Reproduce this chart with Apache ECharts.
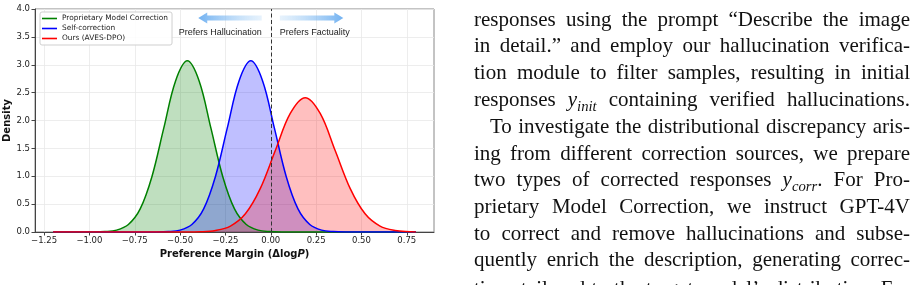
<!DOCTYPE html>
<html>
<head>
<meta charset="utf-8">
<title>Preference Margin</title>
<style>
    body { margin: 0; background: #fff; }
    #chart { position: absolute; left: 0; top: 0; width: 918px; height: 285px; }
    #para {
        position: absolute; left: 474px; top: 0; width: 436px; height: 285px; overflow: hidden;
        font-family: "Liberation Serif", serif; font-size: 21px; color: #111;
    }
    #para div {
        position: absolute; left: 0; width: 436px; height: 26px; line-height: 26px;
        text-align: justify; text-align-last: justify;
    }
    #para .indent { left: 16px; width: 420px; }
    #para sub { font-size: 0.7em; line-height: 0; font-style: italic; }
</style>
</head>
<body>
<div id="chart"></div>
<div id="para">
    <div style="top:5.5px">responses using the prompt “Describe the image</div>
    <div style="top:32.3px">in detail.” and employ our hallucination verifica-</div>
    <div style="top:59.1px">tion module to filter samples, resulting in initial</div>
    <div style="top:85.9px">responses <i>y</i><sub>init</sub> containing verified hallucinations.</div>
    <div class="indent" style="top:112.7px">To investigate the distributional discrepancy aris-</div>
    <div style="top:139.5px">ing from different correction sources, we prepare</div>
    <div style="top:166.3px">two types of corrected responses <i>y</i><sub>corr</sub>. For Pro-</div>
    <div style="top:193.1px">prietary Model Correction, we instruct GPT-4V</div>
    <div style="top:219.9px">to correct and remove hallucinations and subse-</div>
    <div style="top:245.7px">quently enrich the description, generating correc-</div>
    <div style="top:275px">tions tailored to the target model’s distribution. For</div>
</div>

<script src="https://cdn.jsdelivr.net/npm/echarts@6/dist/echarts.min.js"></script>
<script>
    // tick positions
    var xTicks = [-1.25, -1.0, -0.75, -0.5, -0.25, 0, 0.25, 0.5, 0.75];

    // density curves
    var greenX = [-1.2, -0.98, -0.915, -0.85, -0.785, -0.72, -0.655, -0.59, -0.525, -0.46,
                  -0.395, -0.33, -0.265, -0.2, -0.135, -0.07, -0.005, 0.06, 0.8];
    var greenY = [0, 0.001, 0.007, 0.034, 0.135, 0.415, 0.997, 1.862, 2.709, 3.07,
                  2.709, 1.862, 0.997, 0.415, 0.135, 0.034, 0.007, 0.001, 0];

    var blueX = [-1.2, -0.63, -0.565, -0.5, -0.435, -0.37, -0.305, -0.24, -0.175, -0.11,
                 -0.045, 0.02, 0.085, 0.15, 0.215, 0.28, 0.345, 0.41, 0.8];
    var blueY = [0, 0.001, 0.007, 0.034, 0.135, 0.415, 0.997, 1.862, 2.709, 3.07,
                 2.709, 1.862, 0.997, 0.415, 0.135, 0.034, 0.007, 0.001, 0];

    var redX = [-1.2, -0.47, -0.3875, -0.305, -0.2225, -0.14, -0.0575, 0.025, 0.1075, 0.19,
                0.2725, 0.355, 0.4375, 0.52, 0.6025, 0.685, 0.7675, 0.8];
    var redY = [0, 0.001, 0.005, 0.027, 0.106, 0.326, 0.783, 1.462, 2.127, 2.41,
                2.127, 1.462, 0.783, 0.326, 0.106, 0.027, 0.005, 0.002];

    var seriesNames = ['Proprietary Model Correction', 'Self-correction', 'Ours (AVES-DPO)'];
    var seriesColors = ['#008000', '#0000ff', '#ff0000'];

    // annotation placement (data coords)
    var arrowY = 3.84, noteY = 3.58;
    var leftArrow = [-0.05, -0.40], rightArrow = [0.05, 0.40];

    var chart = echarts.init(document.getElementById('chart'));

    function pairs(xs, ys) {
        return xs.map(function (x, i) { return [x, ys[i]]; });
    }
    function minus(s) { return s.replace('-', '\u2212'); }

    function density(i, xs, ys) {
        return {
            name: seriesNames[i],
            type: 'line',
            data: pairs(xs, ys),
            smooth: 0.35,
            symbol: 'none',
            lineStyle: { color: seriesColors[i], width: 1.5 },
            itemStyle: { color: seriesColors[i] },
            areaStyle: { color: seriesColors[i], opacity: 0.25 }
        };
    }

    var red = density(2, redX, redY);
    red.markLine = {
        silent: true,
        symbol: ['none', 'none'],
        label: { show: false },
        lineStyle: { color: '#333', type: [4, 2.5], width: 1 },
        data: [{ xAxis: 0 }]
    };

    var option = {
        animation: false,
        textStyle: { fontFamily: 'DejaVu Sans' },
        grid: { left: 35, top: 9, width: 399, height: 223, show: true, borderColor: '#888', borderWidth: 1 },
        legend: {
            left: 40, top: 12, orient: 'vertical',
            icon: 'rect', itemWidth: 15, itemHeight: 1.6, itemGap: 3,
            padding: [3, 4, 3, 2],
            borderColor: '#cfcfcf', borderWidth: 1, borderRadius: 2,
            backgroundColor: 'rgba(255,255,255,0.85)',
            textStyle: { fontSize: 7.4, color: '#222', fontFamily: 'DejaVu Sans' },
            data: seriesNames
        },
        xAxis: {
            type: 'value', min: -1.3, max: 0.9,
            axisLine: { show: true, onZero: false, lineStyle: { color: '#444' } },
            axisTick: { show: true, length: 3.5, lineStyle: { color: '#444' }, customValues: xTicks },
            axisLabel: {
                customValues: xTicks, fontSize: 8.5, color: '#222', margin: 4,
                formatter: function (v) { return minus(v.toFixed(2)); }
            },
            splitLine: { show: true, lineStyle: { color: '#e8e8e8', width: 0.8 } },
            name: '{b|Preference Margin (Δlog}{i|P}{b|)}',
            nameLocation: 'middle', nameGap: 15,
            nameTextStyle: {
                rich: {
                    b: { fontWeight: 'bold', fontSize: 10, color: '#111', fontFamily: 'DejaVu Sans' },
                    i: { fontWeight: 'bold', fontStyle: 'italic', fontSize: 10, color: '#111', fontFamily: 'DejaVu Sans' }
                }
            }
        },
        yAxis: {
            type: 'value', min: 0, max: 4, interval: 0.5,
            axisLine: { show: true, onZero: false, lineStyle: { color: '#444' } },
            axisTick: { show: true, length: 3.5, lineStyle: { color: '#444' } },
            axisLabel: {
                fontSize: 8.5, color: '#222', margin: 5,
                formatter: function (v) { return v.toFixed(1); }
            },
            splitLine: { show: true, lineStyle: { color: '#e8e8e8', width: 0.8 } },
            name: 'Density', nameLocation: 'middle', nameGap: 18,
            nameTextStyle: { fontWeight: 'bold', fontSize: 10, color: '#111' }
        },
        series: [
            density(0, greenX, greenY),
            density(1, blueX, blueY),
            red
        ]
    };

    chart.setOption(option);

    // arrows and notes positioned from data coordinates
    function px(x, y) { return chart.convertToPixel({ gridIndex: 0 }, [x, y]); }

    function arrow(x0, x1) {
        var a = px(x0, arrowY), b = px(x1, arrowY);
        var dir = b[0] > a[0] ? 1 : -1, hl = 9, sh = 2.5, hh = 5.5;
        var y = a[1], neck = b[0] - dir * hl;
        return {
            type: 'polygon',
            shape: {
                points: [[a[0], y - sh], [neck, y - sh], [neck, y - hh], [b[0], y],
                         [neck, y + hh], [neck, y + sh], [a[0], y + sh]]
            },
            style: {
                fill: new echarts.graphic.LinearGradient(dir > 0 ? 0 : 1, 0, dir > 0 ? 1 : 0, 0, [
                    { offset: 0, color: 'rgba(160,205,245,0.25)' },
                    { offset: 1, color: 'rgba(100,170,240,0.9)' }
                ])
            },
            z: 10
        };
    }

    function note(x, text, align) {
        var p = px(x, noteY);
        return {
            type: 'text', x: p[0], y: p[1], z: 10,
            style: {
                text: text, align: align, verticalAlign: 'middle',
                fontFamily: 'Liberation Sans', fontSize: 9, fill: '#222'
            }
        };
    }

    chart.setOption({
        graphic: [
            arrow(leftArrow[0], leftArrow[1]),
            arrow(rightArrow[0], rightArrow[1]),
            note(leftArrow[0], 'Prefers Hallucination', 'right'),
            note(rightArrow[0], 'Prefers Factuality', 'left')
        ]
    });
</script>
</body>
</html>
